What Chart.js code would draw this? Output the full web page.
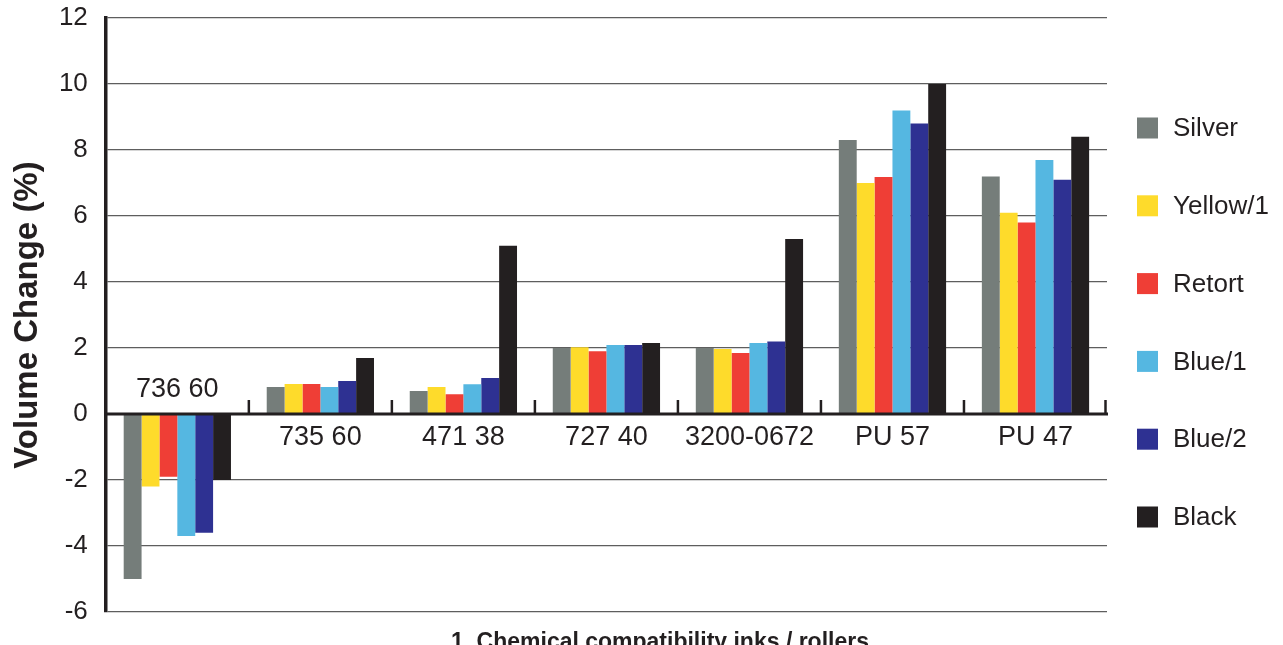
<!DOCTYPE html>
<html>
<head>
<meta charset="utf-8">
<title>Volume Change</title>
<script src="https://cdn.jsdelivr.net/npm/chart.js@4.4.1/dist/chart.umd.min.js"></script>
<style>
    html, body { margin: 0; padding: 0; background: #fff; }
    #wrap { width: 1283px; height: 645px; }
</style>
</head>
<body>
<div id="wrap"><canvas id="chart" width="1283" height="645"></canvas></div>
<script>
// Volume change of roller compounds per ink type

const categories = ['736 60', '735 60', '471 38', '727 40', '3200-0672', 'PU 57', 'PU 47'];

const silver  = [-5.0, 0.82, 0.70, 2.00, 2.00, 8.30, 7.20];
const yellow1 = [-2.2, 0.91, 0.82, 2.02, 1.97, 7.00, 6.10];
const retort  = [-1.9, 0.91, 0.60, 1.90, 1.85, 7.18, 5.80];
const blue1   = [-3.7, 0.82, 0.90, 2.09, 2.15, 9.20, 7.70];
const blue2   = [-3.6, 1.00, 1.09, 2.09, 2.20, 8.80, 7.10];
const black   = [-2.0, 1.70, 5.10, 2.15, 5.30, 10.0, 8.40];

const seriesNames  = ['Silver', 'Yellow/1', 'Retort', 'Blue/1', 'Blue/2', 'Black'];
const seriesValues = [silver, yellow1, retort, blue1, blue2, black];
const seriesColors = ['#757d7a', '#fedb2b', '#ef3e36', '#55b7e1', '#2e3192', '#231f20'];

const yTicks = [-6, -4, -2, 0, 2, 4, 6, 8, 10, 12];

const xTitle = '1. Chemical compatibility inks / rollers';

const FONT = '"Liberation Sans", Arial, Helvetica, sans-serif';
const INK = '#231f20';

// zero line, category separators and the labels that sit on the zero line
const zeroAxisPlugin = {
    id: 'zeroAxis',
    afterDatasetsDraw(chart) {
        const { ctx, chartArea, scales: { x, y } } = chart;
        const y0 = y.getPixelForValue(0);
        const step = x.getPixelForValue(1) - x.getPixelForValue(0);

        ctx.save();
        ctx.strokeStyle = INK;
        ctx.lineWidth = 3;
        ctx.beginPath();
        ctx.moveTo(chartArea.left, y0);
        ctx.lineTo(chartArea.right + 1, y0);
        ctx.stroke();

        ctx.lineWidth = 2.5;
        for (let i = 1; i <= categories.length; i++) {
            const bx = Math.min(x.getPixelForValue(i) - step / 2, chartArea.right - 1.5);
            ctx.beginPath();
            ctx.moveTo(bx, y0);
            ctx.lineTo(bx, y0 - 14);
            ctx.stroke();
        }

        ctx.fillStyle = INK;
        ctx.font = '27px ' + FONT;
        ctx.textAlign = 'center';
        ctx.textBaseline = 'middle';
        categories.forEach((c, i) => {
            const allNeg = seriesValues.every(s => s[i] < 0);
            const ly = allNeg ? y0 - 24 : y0 + 24;
            ctx.fillText(c, x.getPixelForValue(i), ly);
        });
        ctx.restore();
    }
};

// legend to the right of the plot and the caption under it
const sideLegendPlugin = {
    id: 'sideLegend',
    afterDraw(chart) {
        const { ctx } = chart;
        ctx.save();
        ctx.font = '26px ' + FONT;
        ctx.textBaseline = 'middle';
        ctx.textAlign = 'left';
        chart.data.datasets.forEach((ds, i) => {
            const cy = 128 + i * 77.8;
            ctx.fillStyle = ds.backgroundColor;
            ctx.fillRect(1137, cy - 10.5, 21, 21);
            ctx.fillStyle = INK;
            ctx.fillText(ds.label, 1173, cy + 1);
        });

        ctx.font = 'bold 23px ' + FONT;
        ctx.textAlign = 'center';
        ctx.textBaseline = 'alphabetic';
        ctx.fillStyle = INK;
        ctx.fillText(xTitle, 660, 649);
        ctx.restore();
    }
};

const datasets = seriesNames.map((name, i) => ({
    label: name,
    data: seriesValues[i],
    backgroundColor: seriesColors[i],
    borderWidth: 0,
    categoryPercentage: 0.75,
    barPercentage: 1.0
}));

new Chart(document.getElementById('chart'), {
    type: 'bar',
    data: { labels: categories, datasets: datasets },
    options: {
        responsive: false,
        animation: false,
        layout: { padding: { top: 0, right: 176, left: 0, bottom: 33 } },
        plugins: {
            legend: { display: false },
            tooltip: { enabled: false }
        },
        scales: {
            x: {
                grid: { display: false, drawTicks: false },
                border: { display: false },
                ticks: { display: false }
            },
            y: {
                min: -6,
                max: 12,
                afterBuildTicks: scale => { scale.ticks = yTicks.map(v => ({ value: v })); },
                grid: {
                    drawTicks: true,
                    tickLength: 15.6,
                    tickColor: 'rgba(0,0,0,0)',
                    color: '#5e5e5e',
                    lineWidth: 1.3
                },
                border: { color: INK, width: 3.5 },
                ticks: {
                    color: INK,
                    padding: 2.4,
                    font: { family: FONT, size: 26 }
                },
                title: {
                    display: true,
                    text: 'Volume Change (%)',
                    color: INK,
                    font: { family: FONT, size: 33, weight: 'bold', lineHeight: 1 },
                    padding: { top: 11.5, bottom: 12 }
                }
            }
        }
    },
    plugins: [zeroAxisPlugin, sideLegendPlugin]
});
</script>
</body>
</html>
